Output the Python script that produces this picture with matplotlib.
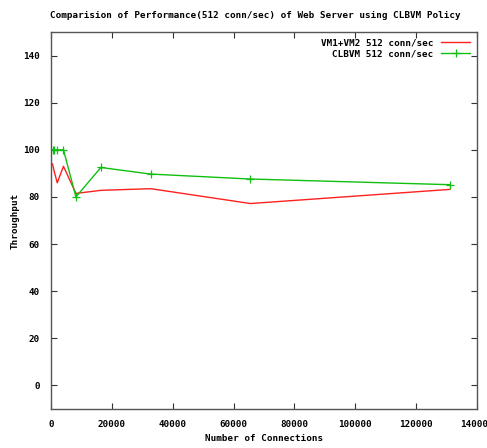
import matplotlib
matplotlib.use("Agg")
import matplotlib.pyplot as plt

conns = [512, 1024, 2048, 4096, 8192, 16384, 32768, 65536, 131072]
vm_throughput = [94, 91, 86, 93, 81.5, 82.8, 83.5, 77.2, 83.2]
clbvm_throughput = [100, 100, 100, 100, 80, 92.5, 89.7, 87.6, 85.2]

xticks = [0, 20000, 40000, 60000, 80000, 100000, 120000, 140000]
yticks = [0, 20, 40, 60, 80, 100, 120, 140]

font = dict(family="DejaVu Sans Mono", weight="bold", size=6.7)

fig = plt.figure(figsize=(4.87, 4.48), dpi=100)
ax = fig.add_axes([51/487, 1-409/448, (477-51)/487, (409-32)/448])

ax.plot(conns, vm_throughput, color="#ff2020", lw=1.0, label="VM1+VM2 512 conn/sec")
ax.plot(conns, clbvm_throughput, color="#10c010", lw=1.0, marker="+", ms=6, mew=0.9,
        label="CLBVM 512 conn/sec")

ax.set_xlim(0, 140000)
ax.set_ylim(-10, 150)
ax.set_xticks(xticks)
ax.set_yticks(yticks)
ax.set_xticklabels([str(v) for v in xticks], fontdict=font)
ax.set_yticklabels([str(v) for v in yticks], fontdict=font)
ax.tick_params(direction="in", top=True, right=True, length=4, width=0.8, pad=8, colors="#333333")
ax.tick_params(labelcolor="black")
for s in ax.spines.values():
    s.set_color("#555555")
    s.set_linewidth(1.0)

ax.set_xlabel("Number of Connections", fontdict=font)
ax.xaxis.set_label_coords(0.5, -(434 - 409) / 377)
ax.set_ylabel("Throughput", fontdict=font)
ax.yaxis.set_label_coords(-(51 - 20) / 426, 0.5)
fig.text(0.5 + 0.025, 1 - 15/448, "Comparision of Performance(512 conn/sec) of Web Server using CLBVM Policy",
         ha="center", va="center", **font)

leg = ax.legend(loc="upper right", frameon=False, markerfirst=False,
                prop=dict(family="DejaVu Sans Mono", weight="bold", size=6.7),
                handlelength=3.2, handletextpad=0.8, labelspacing=0.2,
                borderaxespad=0.3)
for t in leg.get_texts():
    t.set_ha("right")
leg._legend_box.align = "right"

fig.savefig("out.png", dpi=100, facecolor="white")
